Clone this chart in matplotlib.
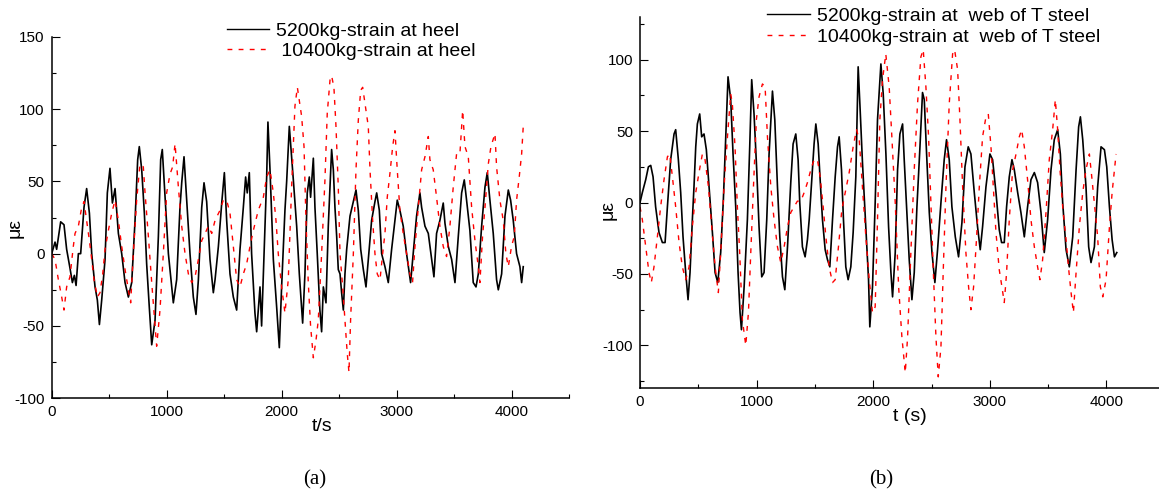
import numpy as np
import matplotlib
matplotlib.use('Agg')
import matplotlib.pyplot as plt
from matplotlib.ticker import MultipleLocator

# (t [s], strain [με]), panel (a): strain at heel
heel_5200 = [
    (0, 0), (29, 8), (43, 3), (78, 22), (107, 20), (130, 3), (159, -10), (180, -20), (197, -15), (212, -22),
    (232, 0), (252, 0), (281, 32), (304, 45), (328, 28), (348, 0), (377, -23), (397, -32), (415, -49), (435, -32),
    (464, -4), (484, 42), (507, 59), (528, 35), (551, 45), (580, 14), (609, 0), (638, -20), (667, -30), (696, -20),
    (725, 23), (748, 65), (762, 74), (783, 58), (806, 28), (826, -7), (849, -37), (870, -63), (899, -46), (928, 12),
    (948, 65), (962, 72), (986, 39), (1015, 0), (1044, -23), (1058, -34), (1087, -18), (1116, 32), (1131, 49),
    (1151, 67), (1174, 37), (1203, 0), (1232, -30), (1255, -42), (1276, -18), (1305, 32), (1325, 49), (1348, 36),
    (1377, -4), (1406, -27), (1421, -18), (1450, 5), (1479, 35), (1502, 56), (1522, 23), (1551, -14), (1580, -30),
    (1609, -39), (1638, 3), (1667, 32), (1687, 53), (1701, 42), (1719, 56), (1739, 0), (1768, -41), (1783, -54),
    (1812, -23), (1826, -50), (1847, 0), (1870, 53), (1881, 91), (1899, 58), (1928, -4), (1957, -37), (1980, -65),
    (2000, -23), (2029, 30), (2044, 50), (2067, 88), (2102, 51), (2131, 19), (2154, -14), (2183, -48), (2203, -14),
    (2223, 42), (2241, 53), (2252, 39), (2276, 66), (2290, 32), (2310, 0), (2333, -39), (2348, -54), (2363, -23),
    (2386, -34), (2406, 19), (2421, 46), (2435, 72), (2450, 58), (2464, 32), (2479, 12), (2493, -11), (2508, -14),
    (2522, -27), (2537, -39), (2551, -14), (2566, 3), (2595, 26), (2624, 36), (2647, 44), (2667, 30), (2688, 3),
    (2711, -11), (2734, -23), (2754, -4), (2783, 23), (2812, 36), (2827, 42), (2850, 30), (2870, 0), (2899, -9),
    (2928, -20), (2957, 3), (2986, 23), (3006, 37), (3029, 30), (3058, 19), (3087, 0), (3122, -20), (3145, 0),
    (3174, 26), (3203, 42), (3218, 32), (3247, 19), (3276, 14), (3305, -4), (3325, -16), (3348, 14), (3377, 23),
    (3406, 35), (3421, 21), (3450, 5), (3479, -4), (3508, -20), (3537, 12), (3566, 42), (3589, 51), (3609, 37),
    (3638, 16), (3667, -20), (3691, -23), (3711, -14), (3740, 19), (3769, 46), (3789, 56), (3812, 37), (3841, 14),
    (3870, -18), (3885, -25), (3914, -14), (3943, 26), (3972, 44), (3992, 37), (4015, 23), (4044, 0), (4073, -9),
    (4088, -20), (4102, -9),
]
heel_10400 = [
    (0, 0), (29, -4), (58, -18), (87, -30), (107, -39), (130, -23), (159, -16), (188, 5), (203, 14), (232, 19),
    (261, 32), (281, 36), (304, 23), (328, 9), (348, -4), (368, -18), (397, -30), (420, -27), (444, -14), (464, 3),
    (493, 16), (522, 28), (551, 37), (580, 23), (609, 5), (638, -11), (667, -25), (687, -34), (710, 0), (739, 37),
    (768, 62), (797, 60), (812, 42), (841, 12), (870, -20), (899, -50), (913, -64), (942, -39), (971, 0), (1000, 42),
    (1029, 55), (1052, 60), (1073, 76), (1102, 46), (1131, 19), (1160, 0), (1189, -14), (1218, -20), (1247, -16),
    (1276, -4), (1305, 9), (1334, 14), (1363, 19), (1392, 14), (1421, 23), (1464, 30), (1493, 37), (1522, 37),
    (1551, 28), (1580, 5), (1609, -18), (1638, -23), (1667, -14), (1696, -7), (1725, 5), (1754, 16), (1797, 30),
    (1841, 39), (1870, 53), (1899, 58), (1928, 42), (1951, 23), (1971, 0), (2000, -23), (2029, -41), (2058, -18),
    (2087, 46), (2116, 102), (2137, 115), (2174, 95), (2195, 74), (2212, 23), (2232, -20), (2252, -50), (2276, -72),
    (2299, -60), (2319, -46), (2348, 0), (2377, 51), (2397, 97), (2421, 120), (2435, 123), (2455, 115), (2473, 88),
    (2493, 46), (2508, 0), (2531, -23), (2551, -46), (2571, -69), (2586, -82), (2600, -46), (2624, 0), (2647, 58),
    (2667, 92), (2688, 113), (2705, 115), (2725, 104), (2754, 88), (2769, 58), (2792, 23), (2812, 0), (2832, -14),
    (2856, -18), (2879, 0), (2899, 14), (2919, 39), (2943, 56), (2966, 74), (2986, 85), (3006, 58), (3029, 30),
    (3058, 14), (3087, 0), (3116, -14), (3139, -20), (3160, 5), (3189, 32), (3218, 58), (3247, 67), (3276, 81),
    (3290, 65), (3319, 58), (3348, 39), (3377, 19), (3406, 5), (3435, -2), (3464, 19), (3493, 46), (3522, 69),
    (3551, 69), (3575, 99), (3595, 74), (3624, 67), (3653, 32), (3682, 9), (3711, -9), (3725, -20), (3748, 12),
    (3769, 32), (3798, 62), (3821, 74), (3856, 83), (3870, 60), (3899, 37), (3928, 23), (3951, 0), (3972, -9),
    (4000, 5), (4024, 12), (4044, 37), (4067, 53), (4088, 69), (4102, 88),
]

# panel (b): strain at web of T steel
web_5200 = [
    (0, 0), (20, 7), (49, 16), (72, 25), (92, 26), (112, 18), (134, -3), (163, -21), (192, -28), (215, -28),
    (235, -3), (263, 30), (292, 48), (306, 51), (329, 30), (349, 7), (369, -24), (392, -49), (412, -68), (429, -49),
    (449, -12), (463, 11), (478, 39), (492, 55), (512, 62), (529, 46), (549, 48), (569, 37), (592, 11), (621, -21),
    (644, -49), (667, -56), (692, -35), (715, 2), (735, 46), (755, 88), (778, 72), (798, 34), (821, -3), (841, -49),
    (858, -77), (870, -89), (893, -59), (921, -12), (941, 39), (958, 86), (978, 62), (1001, 23), (1021, -17),
    (1044, -52), (1064, -49), (1087, -12), (1107, 34), (1136, 78), (1156, 58), (1179, 11), (1199, -24), (1222, -52),
    (1242, -61), (1265, -31), (1293, 14), (1313, 41), (1336, 48), (1356, 30), (1370, 0), (1393, -31), (1416, -38),
    (1436, -26), (1451, -12), (1473, 16), (1493, 41), (1508, 55), (1528, 41), (1545, 16), (1565, -12), (1588, -33),
    (1608, -40), (1628, -45), (1651, -12), (1674, 18), (1694, 39), (1708, 46), (1728, 23), (1745, -12), (1765, -45),
    (1785, -54), (1808, -45), (1828, -21), (1851, 18), (1871, 95), (1888, 65), (1908, 28), (1937, -17), (1960, -54),
    (1971, -87), (1994, -59), (2017, 0), (2037, 58), (2066, 97), (2086, 76), (2109, 34), (2132, -17), (2152, -49),
    (2166, -66), (2189, -35), (2209, 23), (2229, 48), (2252, 55), (2266, 30), (2286, -3), (2309, -40), (2332, -68),
    (2352, -49), (2375, -3), (2401, 39), (2423, 77), (2438, 72), (2458, 34), (2481, -7), (2504, -35), (2529, -56),
    (2552, -33), (2581, 0), (2609, 30), (2629, 44), (2652, 30), (2675, -3), (2704, -24), (2732, -38), (2761, -14),
    (2787, 25), (2815, 39), (2838, 34), (2867, 7), (2895, -17), (2918, -33), (2938, -17), (2967, 11), (3001, 34),
    (3024, 30), (3053, 7), (3081, -19), (3101, -28), (3124, -28), (3144, -3), (3167, 18), (3190, 30), (3210, 23),
    (3239, 7), (3267, -7), (3296, -24), (3324, -3), (3353, 16), (3382, 21), (3410, 14), (3439, -7), (3467, -35),
    (3496, -12), (3525, 23), (3553, 44), (3582, 51), (3605, 34), (3625, 0), (3654, -33), (3682, -45), (3711, -24),
    (3740, 23), (3762, 53), (3777, 60), (3797, 44), (3825, 11), (3848, -31), (3868, -42), (3897, -31), (3925, 11),
    (3954, 39), (3983, 37), (4003, 25), (4026, -3), (4049, -26), (4069, -38), (4089, -35),
]
web_10400 = [
    (0, -3), (20, -12), (49, -31), (77, -49), (97, -56), (120, -45), (149, -24), (177, -3), (206, 16), (235, 32),
    (255, 34), (278, 18), (306, -3), (335, -28), (363, -45), (392, -54), (421, -45), (449, -17), (478, 7), (506, 21),
    (535, 34), (558, 30), (587, 11), (615, -17), (644, -45), (672, -63), (692, -35), (721, 11), (750, 46), (778, 76),
    (792, 69), (815, 39), (835, -3), (855, -35), (878, -82), (907, -100), (930, -77), (950, -35), (973, 11),
    (998, 58), (1021, 74), (1050, 83), (1073, 81), (1093, 46), (1122, 11), (1150, -12), (1179, -31), (1207, -42),
    (1236, -31), (1265, -17), (1293, -7), (1322, -3), (1350, 1), (1379, 1), (1408, 7), (1436, 14), (1465, 23),
    (1493, 30), (1522, 30), (1545, 18), (1571, -3), (1594, -24), (1622, -45), (1651, -56), (1674, -54), (1702, -31),
    (1731, -5), (1760, 7), (1794, 21), (1828, 39), (1857, 51), (1880, 44), (1908, 11), (1937, -24), (1966, -54),
    (1994, -77), (2017, -73), (2037, -12), (2057, 58), (2080, 86), (2108, 104), (2137, 81), (2160, 46), (2189, 0),
    (2218, -59), (2246, -94), (2275, -119), (2295, -94), (2323, -35), (2352, 23), (2380, 69), (2409, 102),
    (2429, 107), (2452, 81), (2475, 46), (2495, 0), (2515, -47), (2538, -94), (2558, -122), (2581, -101),
    (2601, -47), (2624, 11), (2652, 69), (2681, 104), (2698, 107), (2724, 93), (2744, 58), (2767, 11), (2795, -35),
    (2818, -59), (2838, -75), (2861, -59), (2887, -24), (2910, 11), (2938, 46), (2967, 60), (2987, 62), (3010, 39),
    (3030, 11), (3053, -21), (3081, -47), (3104, -59), (3124, -70), (3144, -49), (3167, -12), (3196, 23), (3225, 34),
    (3253, 46), (3273, 51), (3296, 39), (3324, 16), (3353, -12), (3382, -31), (3410, -45), (3430, -54), (3453, -40),
    (3482, -7), (3510, 30), (3539, 51), (3562, 72), (3582, 51), (3602, 23), (3625, -3), (3654, -26), (3677, -47),
    (3697, -63), (3717, -77), (3740, -49), (3768, -17), (3797, 7), (3825, 23), (3854, 34), (3877, 16), (3900, -3),
    (3925, -24), (3948, -59), (3969, -66), (3997, -54), (4026, -17), (4049, 7), (4069, 23), (4083, 34),
]

labels_a = ['5200kg-strain at heel', ' 10400kg-strain at heel']
labels_b = ['5200kg-strain at  web of T steel', '10400kg-strain at  web of T steel']

plt.rcParams['font.family'] = ['Liberation Sans', 'DejaVu Sans']
plt.rcParams['axes.unicode_minus'] = False

W, H = 1159, 496
fig = plt.figure(figsize=(W / 100, H / 100), dpi=100)
ax_a = fig.add_axes([51.7 / W, (H - 398.3) / H, 517.3 / W, 361.6 / H])
ax_b = fig.add_axes([640 / W, (H - 388.3) / H, 519 / W, 371.5 / H])


def style(ax, xlim, ylim):
    ax.set_xlim(*xlim)
    ax.set_ylim(*ylim)
    for s in ('top', 'right'):
        ax.spines[s].set_visible(False)
    for s in ('left', 'bottom'):
        ax.spines[s].set_linewidth(1.1)
    ax.xaxis.set_major_locator(MultipleLocator(1000))
    ax.xaxis.set_minor_locator(MultipleLocator(500))
    ax.yaxis.set_major_locator(MultipleLocator(50))
    ax.yaxis.set_minor_locator(MultipleLocator(25))
    ax.tick_params(which='both', direction='in', width=0.8, labelsize=11)
    ax.tick_params(which='major', length=5.5, pad=5)
    ax.tick_params(which='minor', length=3)


def draw(ax, black, red, labels, anchor):
    t, v = np.array(black).T
    ax.plot(t, v, color='black', lw=1.2, label=labels[0])
    t, v = np.array(red).T
    ax.plot(t, v, color='red', lw=1.0, dashes=(3.5, 4.5), label=labels[1])
    leg = ax.legend(loc='upper left', bbox_to_anchor=anchor, bbox_transform=fig.transFigure,
                    frameon=False, fontsize=14, handlelength=2.2, handletextpad=0.35,
                    borderpad=0, borderaxespad=0, labelspacing=0.15)
    leg.get_lines()[0].set_linewidth(1.0)


draw(ax_a, heel_5200, heel_10400, labels_a, (226.7 / W, 1 - 22 / H))
draw(ax_b, web_5200, web_10400, labels_b, (767 / W, 1 - 7.5 / H))
style(ax_a, (0, 4500), (-100, 150))
style(ax_b, (0, 519 / 0.1166), (-130, 130))

ax_a.set_ylabel('με', fontsize=14)
ax_a.yaxis.set_label_coords(-0.071, 0.471)
ax_a.set_xlabel('t/s', fontsize=14)
ax_a.xaxis.set_label_coords(0.523, -0.077)
ax_b.set_ylabel('με', fontsize=14)
ax_b.yaxis.set_label_coords(-0.062, 0.48)
ax_b.set_xlabel('t (s)', fontsize=14)
ax_b.xaxis.set_label_coords(0.52, -0.077)
for lab in (ax_a.xaxis.label, ax_a.yaxis.label, ax_b.xaxis.label, ax_b.yaxis.label):
    lab.set_verticalalignment('center')

fig.text(315 / W, 1 - 480 / H, '(a)', family='Liberation Serif', fontsize=15, ha='center', va='center')
fig.text(881 / W, 1 - 480 / H, '(b)', family='Liberation Serif', fontsize=15, ha='center', va='center')

fig.savefig('out.png', dpi=100)
